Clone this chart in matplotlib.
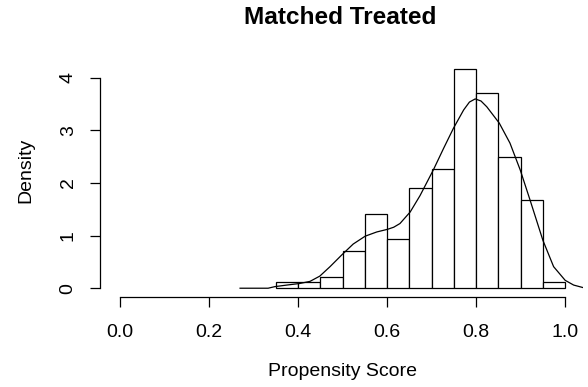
import numpy as np
import matplotlib
matplotlib.use("Agg")
from matplotlib import pyplot as plt

# histogram (density scale), bin width 0.05
bin_edges = [0.35, 0.40, 0.45, 0.50, 0.55, 0.60, 0.65, 0.70, 0.75, 0.80, 0.85, 0.90, 0.95, 1.00]
bar_density = [0.11, 0.11, 0.22, 0.70, 1.41, 0.93, 1.90, 2.27, 4.17, 3.71, 2.50, 1.68, 0.11]

# density curve
curve_x = [0.270, 0.333, 0.348, 0.375, 0.404, 0.427, 0.449, 0.472, 0.498, 0.524,
           0.551, 0.577, 0.601, 0.615, 0.629, 0.652, 0.674, 0.704, 0.727, 0.749,
           0.772, 0.785, 0.798, 0.811, 0.824, 0.852, 0.876, 0.899, 0.921, 0.950,
           0.974, 1.000, 1.019, 1.041]
curve_y = [0.00, 0.00, 0.03, 0.06, 0.09, 0.13, 0.23, 0.41, 0.63, 0.84,
           0.99, 1.07, 1.12, 1.16, 1.23, 1.45, 1.76, 2.25, 2.66, 3.04,
           3.39, 3.54, 3.60, 3.56, 3.45, 3.14, 2.76, 2.25, 1.68, 0.91,
           0.41, 0.15, 0.06, 0.01]

x_ticks = [0.0, 0.2, 0.4, 0.6, 0.8, 1.0]
x_tick_labels = ["0.0", "0.2", "0.4", "0.6", "0.8", "1.0"]
y_ticks = [0, 1, 2, 3, 4]
y_tick_labels = ["0", "1", "2", "3", "4"]

plt.rcParams['font.family'] = ['Liberation Sans', 'DejaVu Sans']

W, H = 588, 387
fig = plt.figure(figsize=(W / 100, H / 100), dpi=100)
ax = fig.add_axes([102 / W, (H - 297) / H, 481 / W, 237 / H])

lefts = bin_edges[:-1]
widths = np.diff(bin_edges)
ax.bar(lefts, bar_density, width=widths, align='edge', color='white',
       edgecolor='black', linewidth=0.9)
ax.plot(curve_x, curve_y, color='black', linewidth=0.9)

ax.set_xlim(-0.04, 1.04)
ax.set_ylim(-0.167, 4.34)

for s in ['top', 'right']:
    ax.spines[s].set_visible(False)
ax.spines['left'].set_bounds(0, 4)
ax.spines['bottom'].set_bounds(0, 1)
ax.spines['left'].set_position(('outward', 1.5))
for s in ['left', 'bottom']:
    ax.spines[s].set_linewidth(0.9)

ax.set_xticks(x_ticks)
ax.set_xticklabels(x_tick_labels, fontsize=14)
ax.set_yticks(y_ticks)
ax.set_yticklabels(y_tick_labels, fontsize=14, rotation=90, va='center')
ax.tick_params(axis='x', length=7.2, width=0.9, pad=12)
ax.tick_params(axis='y', length=7.2, width=0.9, pad=9.5)

ax.set_xlabel("Propensity Score", fontsize=14)
ax.xaxis.set_label_coords(0.5, -0.28)
ax.set_ylabel("Density", fontsize=14)
ax.yaxis.set_label_coords(-0.141, 0.536)

fig.text(340 / W, 1 - 18 / H, "Matched Treated", fontsize=17.6, fontweight='bold',
         ha='center', va='center')

fig.savefig("out.png", dpi=100)
